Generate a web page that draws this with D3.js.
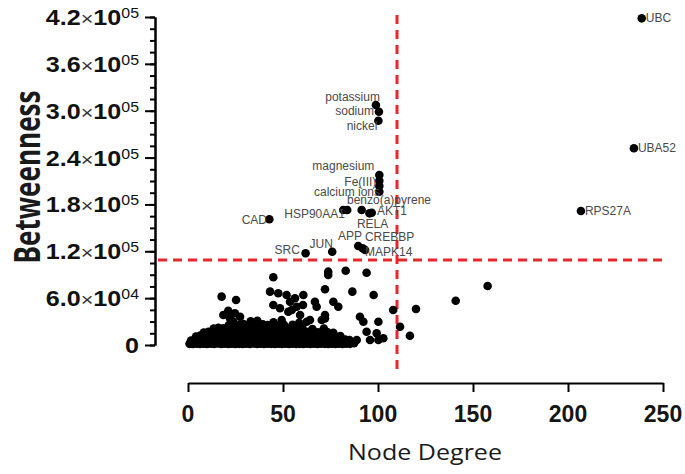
<!DOCTYPE html>
<html><head><meta charset="utf-8">
<script src="https://cdn.jsdelivr.net/npm/d3@7"></script>
<style>body{margin:0;background:#fff}svg{display:block}</style>
</head><body>
<svg id="c" width="685" height="474"></svg>
<script>
// ---------- data ----------
const labelNames = ["UBC","UBA52","RPS27A","potassium","sodium","nickel","magnesium","Fe(III)","calcium ions","benzo(a)pyrene","HSP90AA1","AKT1","RELA","CAD","APP","CREBBP","MAPK14","JUN","SRC"];
const labelDegree = [238.8,234.7,206.8,98.9,100.5,100.2,100.7,100.7,100.7,91.4,81.7,96.7,95.5,42.8,89.6,91.9,93.2,75.9,61.9];
const labelBetweenness = [418300,251900,171600,307300,298700,287200,217700,210400,196300,172900,172900,169400,168600,161000,126800,123800,121600,119500,117400];

const degreeThreshold = 110;
const betweennessThreshold = 109000;

const xTicks = [0,50,100,150,200,250];
const yMajorTicks = [0,60000,120000,180000,240000,300000,360000,420000];
const yMinorTicks = d3.range(0,420001,15000);

// other (unlabelled) nodes: [degree, betweenness]
const outlierNodes = [[44.9,86700],[73.8,93900],[73.8,89600],[83,95100],[94,92600],[72.1,71300],[86.5,68300],[97.7,64000],[17.7,61900],[25.3,57600],[43.2,68300],[47.5,66200],[51.9,64000],[56.3,59800],[60.7,64000],[44.9,51200],[48.4,47000],[52.8,42600],[53.7,55400],[54.6,44800],[57.2,49000],[60.5,51200],[66.8,55400],[67.7,49000],[76.5,55400],[79.1,49000],[72.1,34100],[72.1,38400],[21.2,43900],[18.6,38400],[24.7,40600],[27.4,36200],[22.1,34100],[49.3,32000],[59,38400],[62.5,29800],[64.2,32000],[70.4,32000],[90.5,36200],[92.3,29800],[100.2,29800],[108,44800],[120,46100],[140.9,56700],[157.7,75500],[111.6,23400],[116.8,11900],[99.3,15000],[94,17000],[102.8,8600],[88.8,6400],[95.8,6400],[100.2,6400],[100.7,203600],[83.8,172900]];

const denseNodes = [
[0.8,1500],[2.6,1200],[4.5,1800],[6.3,1300],[8.2,1600],[10,1200],[12,1700],[13.8,1400],[15.7,1900],[17.5,1300],[19.4,1600],[21.3,1200],[23.1,1800],[25,1400],[27,1500],[28.8,1200],[30.7,1700],[32.6,1400],[34.4,1900],[36.3,1300],[38.2,1600],[40,1200],[42,1700],[43.8,1500],[45.7,1300],[47.6,1800],[49.4,1400],[51.3,1600],[53.2,1200],[55,1700],[57,1400],[58.8,1500],[60.7,1300],[62.6,1800],[64.4,1400],[66.3,1600],[68.2,1200],[70,1700],[72,1500],[73.8,1300],[75.7,1800],[77.6,1400],[79.4,1600],[81.3,1200],[83.2,1700],[85.2,1500],[87.4,2200],
[1.6,5800],[3.6,6900],[5.8,6200],[8,7100],[10.2,6300],[12.4,7000],[14.6,6100],[16.8,6800],[19,6400],[21.2,7200],[23.4,6000],[25.6,6900],[27.8,6300],[30,7100],[32.2,6200],[34.4,6800],[36.6,6500],[38.8,7000],[41,6100],[43.2,6900],[45.4,6400],[47.6,7200],[49.8,6000],[52,6800],[54.2,6400],[56.4,7100],[58.6,6200],[60.8,6900],[63,6300],[65.2,7000],[67.4,6100],[69.6,6800],[71.8,6500],[74,7100],[76.2,6200],[78.4,6900],[80.6,6400],[82.8,7000],[85,6200],
[4.2,10800],[6.4,12000],[8.7,11200],[11,12300],[13.3,11000],[15.6,11900],[17.9,11300],[20.2,12400],[22.5,11100],[24.8,12000],[27.1,11500],[29.4,12200],[31.7,11000],[34,11800],[36.3,11400],[38.6,12300],[40.9,11100],[43.2,11900],[45.5,11600],[47.8,12200],[50.1,11000],[52.4,11800],[54.7,11300],[57,12100],[59.3,11200],[61.6,11900],[63.9,11400],[66.2,12000],[68.5,11100],[70.8,11700],[73.1,11300],[75.4,12000],[77.7,11100],[80.2,11600],
[8.3,15800],[10.8,17000],[13.2,16200],[15.6,17300],[18,16000],[20.4,16900],[22.8,16400],[25.2,17400],[27.6,16100],[30,17000],[32.4,16500],[34.8,17300],[37.2,16000],[39.6,16800],[42,16300],[44.4,17200],[46.8,16100],[49.2,16900],[51.6,16400],[54,17100],[56.4,16000],[58.8,16700],[61.2,16200],[63.6,16900],[66,15800],[68.4,16400],[70.8,15900],[73.5,16300],[76.5,15500],
[13.5,21000],[16,22000],[18.5,21300],[21,22400],[23.5,21200],[26,22100],[28.5,21600],[31,22500],[33.5,21300],[36,22200],[38.5,21500],[41,22300],[43.5,21100],[46,21900],[48.5,21400],[51,21800],[53.7,21000],[57,20800],[60.3,21500],[65.5,20500],[71.5,21000],
[21.5,25600],[24,27600],[26.8,25900],[29.2,26800],[31.8,25500],[34,27200],[36.6,26000],[39.4,26600],[42,25400],[44.8,26300],[47.5,25000],[50.5,25800],[55,26000],
[23.8,30000],[33,30500],[36.5,31000],[45,29000],[58.5,28500]
];

// ---------- layout (pixels, not data) ----------
const labelLayout = {
 "UBC":["start",4,4],"UBA52":["start",4,4],"RPS27A":["start",4,4.3],
 "potassium":["end",4,-4],"sodium":["end",-5,3.6],"nickel":["end",-1,9.6],
 "magnesium":["end",-5,-4.7],"Fe(III)":["end",-3,5.3],"calcium ions":["end",0.7,4.8],
 "benzo(a)pyrene":["start",-14.7,-5.5],"HSP90AA1":["end",1.7,8.3],"AKT1":["start",5.3,2.6],
 "RELA":["start",-12.5,14.3],"CAD":["end",-2.3,5],"APP":["end",3.7,-5.7],
 "CREBBP":["start",2.3,-7.3],"MAPK14":["start",0,6],"JUN":["end",0.7,-4.1],"SRC":["end",-5.7,1]
};

const svg = d3.select("#c");
const x = d3.scaleLinear([0,250],[188,663]);
const y = d3.scaleLinear([0,420000],[345,17]);
const xAxisY = 383, yAxisX = 155;
const tickFont = "'Liberation Sans', Arial, sans-serif";
const red = "#e8262b";

// ---------- axes ----------
const gx = svg.append("g").attr("transform",`translate(0,${xAxisY})`)
  .call(d3.axisBottom(x).tickValues(xTicks).tickSize(9).tickSizeOuter(0).tickFormat(""));
gx.selectAll("path,line").attr("stroke","#000").attr("stroke-width",2);
gx.selectAll(".tick text").remove();
svg.append("g").selectAll("text").data(xTicks).join("text")
  .attr("x",d=>x(d)).attr("y",421.5).attr("text-anchor","middle")
  .attr("font-family",tickFont).attr("font-weight","bold").attr("font-size",23).attr("fill","#151515")
  .text(d=>d);

const gyMinor = svg.append("g").attr("transform",`translate(${yAxisX},0)`)
  .call(d3.axisLeft(y).tickValues(yMinorTicks).tickSize(5).tickSizeOuter(0).tickFormat(""));
gyMinor.selectAll("path,line").attr("stroke","#000").attr("stroke-width",2);
const gy = svg.append("g").attr("transform",`translate(${yAxisX},0)`)
  .call(d3.axisLeft(y).tickValues(yMajorTicks).tickSize(10).tickSizeOuter(0).tickFormat(""));
gy.selectAll("path,line").attr("stroke","#000").attr("stroke-width",2);

const yl = svg.append("g").selectAll("text").data(yMajorTicks).join("text")
  .attr("transform",d=>`translate(139,${y(d)+8}) scale(1.14,1)`)
  .attr("text-anchor","end").attr("font-family",tickFont).attr("fill","#111")
  .attr("font-size",22).attr("font-weight","bold");
yl.each(function(v){
  const t = d3.select(this);
  if(v===0){ t.append("tspan").text("0"); return; }
  const e = Math.floor(Math.log10(v));
  const m = (v/Math.pow(10,e)).toFixed(1);
  t.append("tspan").text(m);
  t.append("tspan").attr("font-weight","normal").attr("font-size",19).attr("fill","#333").text("\u00d7");
  t.append("tspan").text("10");
  t.append("tspan").attr("font-size",14).attr("font-weight","normal").attr("dy",-7).text(String(e).padStart(2,"0"));
});

// axis titles
svg.append("text").attr("x",425).attr("y",460).attr("text-anchor","middle")
  .attr("font-family","'Open Sans', Lato, sans-serif").attr("font-size",21).attr("fill","#1a1a1a")
  .attr("textLength",154).attr("lengthAdjust","spacingAndGlyphs").text("Node Degree");
svg.append("text").attr("transform","translate(40,177) scale(1.3,1) rotate(-90)")
  .attr("text-anchor","middle").attr("font-family","'Open Sans', Lato, sans-serif")
  .attr("font-weight","bold").attr("font-size",27).attr("fill","#1a1a1a")
  .attr("textLength",173).attr("lengthAdjust","spacingAndGlyphs").text("Betweenness");

// ---------- threshold lines ----------
svg.append("line").attr("x1",158).attr("x2",662)
  .attr("y1",y(betweennessThreshold)).attr("y2",y(betweennessThreshold))
  .attr("stroke",red).attr("stroke-width",3).attr("stroke-dasharray","9,6");
svg.append("line").attr("x1",x(degreeThreshold)).attr("x2",x(degreeThreshold))
  .attr("y1",15).attr("y2",xAxisY-11)
  .attr("stroke",red).attr("stroke-width",3).attr("stroke-dasharray","9,6");

// ---------- points ----------
const R = 4.3;
const gp = svg.append("g").attr("fill","#000");
gp.selectAll("circle.d").data(denseNodes).join("circle").attr("class","d")
  .attr("cx",d=>x(d[0])).attr("cy",d=>y(d[1])).attr("r",R);
gp.selectAll("circle.o").data(outlierNodes).join("circle").attr("class","o")
  .attr("cx",d=>x(d[0])).attr("cy",d=>y(d[1])).attr("r",R);
const labelled = labelNames.map((n,i)=>({name:n,deg:labelDegree[i],bet:labelBetweenness[i]}));
gp.selectAll("circle.l").data(labelled).join("circle").attr("class","l")
  .attr("cx",d=>x(d.deg)).attr("cy",d=>y(d.bet)).attr("r",R);

svg.append("g").selectAll("text").data(labelled).join("text")
  .attr("x",d=>x(d.deg)+labelLayout[d.name][1])
  .attr("y",d=>y(d.bet)+labelLayout[d.name][2])
  .attr("text-anchor",d=>labelLayout[d.name][0])
  .attr("font-family",tickFont).attr("font-size",12).attr("fill","#4a4a4a")
  .text(d=>d.name);
</script>
</body></html>
